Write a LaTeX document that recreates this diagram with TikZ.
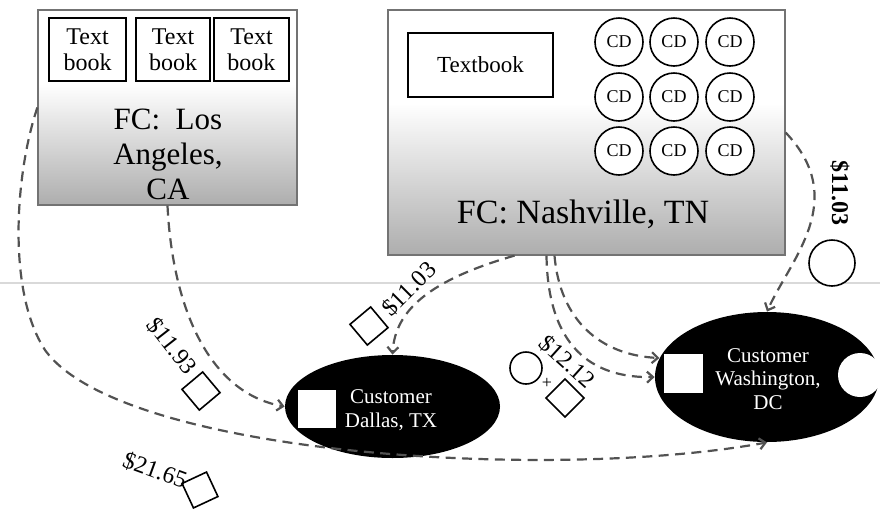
\documentclass[tikz,border=0pt]{standalone}
\usepackage{fontspec}
\setmainfont{Liberation Serif}
\usetikzlibrary{shapes.geometric,arrows.meta,calc}

\newcommand{\px}{0.5pt}
% white above, grey towards the bottom of a fulfilment centre
\pgfdeclareverticalshading{fcshade}{100bp}{color(0bp)=(black!32); color(25bp)=(black!32); color(56bp)=(white); color(100bp)=(white)}

\tikzset{
  fcbox/.style={draw=black!55, line width=0.6pt, shading=fcshade},
  bookbox/.style={draw, line width=1pt, fill=white, align=center},
  cdcirc/.style={draw, circle, line width=0.8pt, fill=white, minimum size=48*\px, inner sep=0pt},
  custnode/.style={ellipse, fill=black, inner sep=0pt},
  pkg/.style={draw, line width=0.8pt, minimum size=27*\px, inner sep=0pt},
  cd/.style={draw, circle, line width=0.8pt, fill=white, inner sep=0pt},
  price/.style={font=\fontsize{12}{13}\selectfont, inner sep=1pt},
  ship/.style={draw=black!68, line width=1.1pt, dash pattern=on 5pt off 3.2pt, -{Straight Barb[length=3pt,width=5.5pt]}}
}

\begin{document}
\begin{tikzpicture}[x=\px, y=-\px]
  \useasboundingbox (0,0) rectangle (880,510);
  \draw[black!15, line width=0.6pt] (0,283) -- (880,283);

  % fulfilment centre Los Angeles
  \node[fcbox, minimum width=259*\px, minimum height=195*\px] (la) at (167.5,107.5) {};
  \node[bookbox, minimum width=77*\px, minimum height=63*\px, font=\fontsize{12}{12.8}\selectfont] (lab1) at (87.5,49.5) {Text\\book};
  \node[bookbox, minimum width=74*\px, minimum height=63*\px, font=\fontsize{12}{12.8}\selectfont] (lab2) at (173,49.5) {Text\\book};
  \node[bookbox, minimum width=75*\px, minimum height=63*\px, font=\fontsize{12}{12.8}\selectfont] (lab3) at (251.5,49.5) {Text\\book};
  \node[align=center, font=\fontsize{15.5}{17.5}\selectfont] (lalbl) at (168,154) {FC:\ \ Los\\Angeles,\\CA};

  % fulfilment centre Nashville
  \node[fcbox, minimum width=397*\px, minimum height=245*\px] (ns) at (586.5,132.5) {};
  \node[bookbox, minimum width=145*\px, minimum height=64*\px, font=\fontsize{11.5}{12}\selectfont] (nsb) at (480.5,65) {Textbook};
  \foreach \r/\y in {1/42,2/97,3/151}
    \foreach \c/\x in {1/619,2/674,3/730}
      \node[cdcirc, font=\fontsize{9}{10}\selectfont] (cd\r\c) at (\x,\y) {CD};
  \node[font=\fontsize{17}{18}\selectfont] (nslbl) at (583,214) {FC: Nashville, TN};

  % customers
  \node[custnode, minimum width=215*\px, minimum height=103*\px] (da) at (392.5,406.5) {};
  \node[fill=white, minimum size=38*\px, inner sep=0pt] (dasq) at (316.5,409) {};
  \node[align=center, text=white, font=\fontsize{10.5}{12}\selectfont] (dalbl) at (391,410) {Customer\\Dallas, TX};

  \node[custnode, minimum width=224*\px, minimum height=130*\px] (wa) at (767,377) {};
  \node[fill=white, minimum size=39*\px, inner sep=0pt] (wasq) at (683,373.5) {};
  \node[circle, fill=white, minimum size=44*\px, inner sep=0pt] (wacd) at (860,375) {};
  \node[align=center, text=white, font=\fontsize{10.5}{11.8}\selectfont] (walbl) at (768,379) {Customer\\Washington,\\DC};

  % shipments
  \draw[ship] (la.west) .. controls (16,170) and (6,290) .. (45,350) .. controls (120,455) and (550,482) .. (wa.south);
  \draw[ship] (la.south) .. controls (172,300) and (205,392) .. (da.west);
  \draw[ship] ($(ns.south)+(-72,0)$) .. controls (430,280) and (395,310) .. (da.north);
  \draw[ship] ($(ns.south)+(-32,0)$) .. controls (560,320) and (600,355) .. (wa.170);
  \draw[ship] ($(ns.south)+(-40,0)$) .. controls (548,355) and (600,378) .. (wa.west);
  \draw[ship] (ns.east) .. controls (850,200) and (790,260) .. (wa.north);

  % prices
  \node[price, rotate=-52] (p1) at (172,346) {\$11.93};
  \node[pkg, rotate=40] (p1b) at (201,391) {};
  \node[price, rotate=-20] (p2) at (155,470) {\$21.65};
  \node[pkg, rotate=25] (p2b) at (200,490) {};
  \node[price, rotate=45] (p3) at (409,289) {\$11.03};
  \node[pkg, rotate=40] (p3b) at (369,326) {};
  \node[price, rotate=-42] (p4) at (567,362) {\$12.12};
  \node[cd, minimum size=32*\px] (p4c) at (526,368) {};
  \node[font=\fontsize{9}{10}\selectfont, inner sep=0pt] (p4p) at (547,383) {+};
  \node[pkg, rotate=45] (p4b) at (565,398) {};
  \node[price, font=\bfseries\fontsize{12}{13}\selectfont, rotate=-90] (p5) at (840,193) {\$11.03};
  \node[cd, minimum size=46*\px] (p5c) at (832,263) {};
\end{tikzpicture}
\end{document}
